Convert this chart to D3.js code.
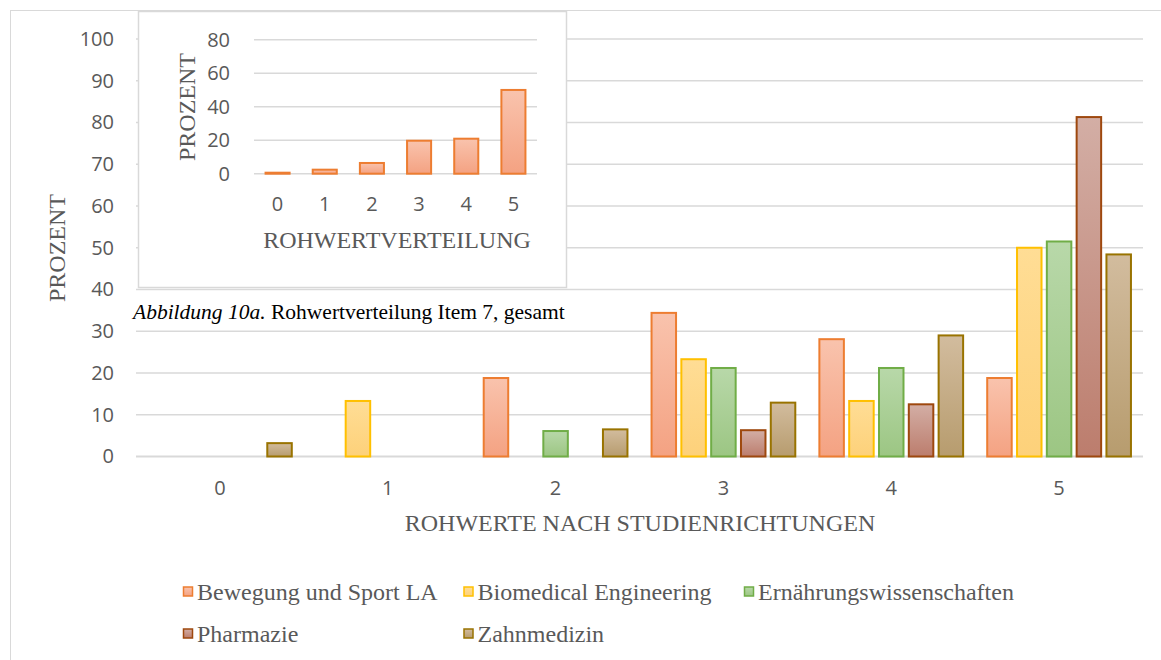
<!DOCTYPE html>
<html>
<head>
<meta charset="utf-8">
<script src="https://cdn.jsdelivr.net/npm/d3@7"></script>
<style>
  body { margin: 0; background: #fff; }
  svg { display: block; }
</style>
</head>
<body>
<div id="chart"></div>
<script>
// values (percent)
var categories = ["0", "1", "2", "3", "4", "5"];
var seriesNames = ["Bewegung und Sport LA", "Biomedical Engineering", "Ernährungswissenschaften", "Pharmazie", "Zahnmedizin"];
var bewegung = [0, 0, 18.8, 34.4, 28.1, 18.8];
var biomedical = [0, 13.3, 0, 23.3, 13.3, 50.0];
var ernaehrung = [0, 0, 6.1, 21.2, 21.2, 51.5];
var pharmazie = [0, 0, 0, 6.3, 12.5, 81.3];
var zahnmedizin = [3.2, 0, 6.5, 12.9, 29.0, 48.4];
var gesamt = [0.6, 2.4, 6.4, 19.7, 20.9, 50.0];
var mainTicks = [0, 10, 20, 30, 40, 50, 60, 70, 80, 90, 100];
var insetTicks = [0, 20, 40, 60, 80];

var allSeries = [bewegung, biomedical, ernaehrung, pharmazie, zahnmedizin];

// fill top / fill bottom / outline for each series
var colours = [
  {top: "#f9c3ad", bottom: "#f4a282", line: "#ed7d31"},
  {top: "#ffdd95", bottom: "#fdd17a", line: "#ffc000"},
  {top: "#b8d8a9", bottom: "#9cc683", line: "#70ad47"},
  {top: "#d3aea5", bottom: "#bc7d6d", line: "#9e480e"},
  {top: "#d2bc9e", bottom: "#b79c6e", line: "#997300"}
];

var width = 1161, height = 660;
var grey = "#595959", gridCol = "#d9d9d9";
var serif = "'Liberation Serif', 'Times New Roman', serif";
var sans = "'Open Sans', 'Noto Sans', sans-serif";

var svg = d3.select("#chart").append("svg")
    .attr("width", width)
    .attr("height", height);

var defs = svg.append("defs");
colours.forEach(function(c, i){
  var g = defs.append("linearGradient")
      .attr("id", "grad" + i)
      .attr("x1", 0).attr("y1", 0).attr("x2", 0).attr("y2", 1);
  g.append("stop").attr("offset", "0%").attr("stop-color", c.top);
  g.append("stop").attr("offset", "100%").attr("stop-color", c.bottom);
});

// outer chart frame
svg.append("rect")
    .attr("x", 10.5).attr("y", 10.5)
    .attr("width", 1170).attr("height", 670)
    .attr("fill", "#fff")
    .attr("stroke", gridCol);

/** main chart **/
var x = d3.scaleBand().domain(categories).range([136, 1143]).padding(0);
var xInner = d3.scaleBand().domain(d3.range(allSeries.length))
    .range([0, x.bandwidth()]).paddingInner(0.178).paddingOuter(0.404);
var y = d3.scaleLinear().domain([0, 100]).range([456.5, 39]);

var grid = svg.append("g").attr("class", "grid");
grid.selectAll("line")
    .data(mainTicks)
    .enter().append("line")
    .attr("x1", 136).attr("x2", 1143)
    .attr("y1", function(d){ return y(d); })
    .attr("y2", function(d){ return y(d); })
    .style("stroke", gridCol)
    .style("stroke-width", function(d){ return d == 0 ? 2 : 1.5; });

var yAxis = svg.append("g")
    .attr("transform", "translate(114,0)")
    .call(d3.axisLeft(y).tickValues(mainTicks).tickSize(0).tickPadding(0));
yAxis.select(".domain").remove();
yAxis.selectAll("text")
    .style("font-family", sans).style("font-size", "20px").attr("fill", grey);

var xAxis = svg.append("g")
    .attr("transform", "translate(0,481)")
    .call(d3.axisBottom(x).tickSize(0).tickPadding(0));
xAxis.select(".domain").remove();
xAxis.selectAll("text")
    .style("font-family", sans).style("font-size", "20px").attr("fill", grey);

// bars
allSeries.forEach(function(vals, si){
  var rows = vals.map(function(v, i){ return {cat: categories[i], v: v}; })
      .filter(function(d){ return d.v > 0; });
  svg.append("g").attr("class", "series" + si)
    .selectAll("rect")
    .data(rows)
    .enter().append("rect")
    .attr("x", function(d){ return x(d.cat) + xInner(si); })
    .attr("y", function(d){ return y(d.v); })
    .attr("width", xInner.bandwidth())
    .attr("height", function(d){ return y(0) - y(d.v); })
    .attr("fill", "url(#grad" + si + ")")
    .style("stroke", colours[si].line)
    .style("stroke-width", 2);
});

svg.append("text")
    .attr("transform", "translate(65,248) rotate(-90)")
    .attr("text-anchor", "middle")
    .style("font-family", serif).style("font-size", "24px")
    .attr("fill", grey)
    .text("PROZENT");

svg.append("text")
    .attr("x", 640).attr("y", 531)
    .attr("text-anchor", "middle")
    .style("font-family", serif).style("font-size", "24px")
    .attr("fill", grey)
    .text("ROHWERTE NACH STUDIENRICHTUNGEN");

// legend, two rows
var legend = svg.append("g").attr("class", "legend");
var legItems = legend.selectAll("g")
    .data(seriesNames)
    .enter().append("g")
    .attr("transform", function(d, i){
      return "translate(" + (183 + (i % 3) * 280.5) + "," + (592 + Math.floor(i / 3) * 42) + ")";
    });
legItems.append("rect")
    .attr("x", 0.5).attr("y", -5).attr("width", 9).attr("height", 9)
    .attr("fill", function(d, i){ return "url(#grad" + i + ")"; })
    .style("stroke", function(d, i){ return colours[i].line; })
    .style("stroke-width", 1.5);
legItems.append("text")
    .attr("x", 14).attr("y", 8)
    .style("font-family", serif).style("font-size", "24px")
    .attr("fill", grey)
    .text(function(d){ return d; });

/** inset chart: overall distribution **/
var inset = svg.append("g").attr("class", "inset");
inset.append("rect")
    .attr("x", 138.5).attr("y", 11.5)
    .attr("width", 428).attr("height", 276)
    .attr("fill", "#fff")
    .style("stroke", gridCol)
    .style("stroke-width", 1.5);

var xi = d3.scaleBand().domain(categories).range([254, 537])
    .paddingInner(0.49).paddingOuter(0.245);
var yi = d3.scaleLinear().domain([0, 80]).range([173.7, 39.7]);

inset.append("g").selectAll("line")
    .data(insetTicks)
    .enter().append("line")
    .attr("x1", 254).attr("x2", 537)
    .attr("y1", function(d){ return yi(d); })
    .attr("y2", function(d){ return yi(d); })
    .style("stroke", gridCol)
    .style("stroke-width", 1.5);

var yAxisI = inset.append("g")
    .attr("transform", "translate(230,0)")
    .call(d3.axisLeft(yi).tickValues(insetTicks).tickSize(0).tickPadding(0));
yAxisI.select(".domain").remove();
yAxisI.selectAll("text")
    .style("font-family", sans).style("font-size", "20px").attr("fill", grey);

var xAxisI = inset.append("g")
    .attr("transform", "translate(0,197)")
    .call(d3.axisBottom(xi).tickSize(0).tickPadding(0));
xAxisI.select(".domain").remove();
xAxisI.selectAll("text")
    .style("font-family", sans).style("font-size", "20px").attr("fill", grey);

inset.append("g").selectAll("rect")
    .data(gesamt)
    .enter().append("rect")
    .attr("x", function(d, i){ return xi(categories[i]); })
    .attr("y", function(d){ return yi(d); })
    .attr("width", xi.bandwidth())
    .attr("height", function(d){ return yi(0) - yi(d); })
    .attr("fill", "url(#grad0)")
    .style("stroke", colours[0].line)
    .style("stroke-width", 2);

inset.append("text")
    .attr("transform", "translate(195,107) rotate(-90)")
    .attr("text-anchor", "middle")
    .style("font-family", serif).style("font-size", "24px")
    .attr("fill", grey)
    .text("PROZENT");

inset.append("text")
    .attr("x", 397).attr("y", 248)
    .attr("text-anchor", "middle")
    .style("font-family", serif).style("font-size", "24px")
    .attr("fill", grey)
    .text("ROHWERTVERTEILUNG");

// caption under the inset
var caption = svg.append("text")
    .attr("x", 133).attr("y", 319)
    .style("font-family", serif).style("font-size", "21.5px")
    .attr("fill", "#000");
caption.append("tspan").style("font-style", "italic").text("Abbildung 10a.");
caption.append("tspan").text(" Rohwertverteilung Item 7, gesamt");
</script>
</body>
</html>
